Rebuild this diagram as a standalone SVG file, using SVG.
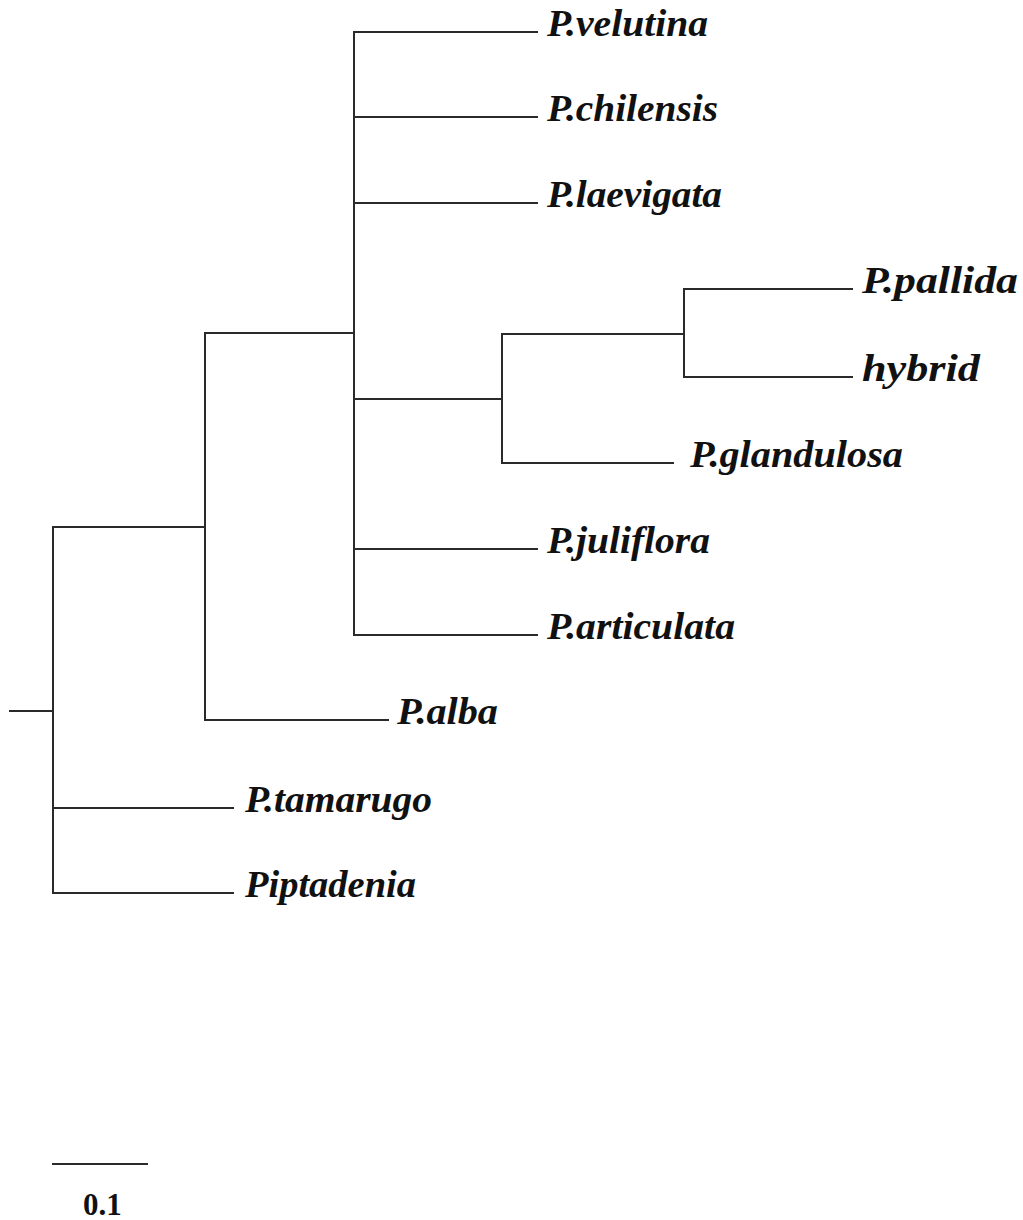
<svg xmlns="http://www.w3.org/2000/svg" width="1023" height="1220" viewBox="0 0 1023 1220">
<style>
.br{stroke:#2a2a2a;stroke-width:2;fill:none;stroke-linecap:square}
.lb{font-family:"Liberation Serif","Times New Roman",serif;font-weight:bold;font-style:italic;font-size:37px;fill:#111}
.sc{font-family:"Liberation Serif","Times New Roman",serif;font-weight:bold;font-size:31px;fill:#111}
</style>
<rect width="1023" height="1220" fill="#fff"/>
<g id="connectors">
<path class="br" d="M10 711H53M53 527V893M53 527H205M53 808H233M53 893H233"/>
<path class="br" d="M205 333V720M205 333H354M205 720H388"/>
<path class="br" d="M354 32V635M354 32H537M354 117H537M354 203H537M354 399H502M354 549H537M354 635H537"/>
<path class="br" d="M502 334V463M502 334H684M502 463H673"/>
<path class="br" d="M684 289V377M684 289H852M684 377H852"/>
</g>
<g id="n-velutina"><text class="lb" x="547" y="36" textLength="161" lengthAdjust="spacingAndGlyphs">P.velutina</text></g>
<g id="n-chilensis"><text class="lb" x="547" y="121" textLength="171" lengthAdjust="spacingAndGlyphs">P.chilensis</text></g>
<g id="n-laevigata"><text class="lb" x="547" y="207" textLength="175" lengthAdjust="spacingAndGlyphs">P.laevigata</text></g>
<g id="n-pallida"><text class="lb" x="862" y="293" textLength="156" lengthAdjust="spacingAndGlyphs">P.pallida</text></g>
<g id="n-hybrid"><text class="lb" x="862" y="381" textLength="118" lengthAdjust="spacingAndGlyphs">hybrid</text></g>
<g id="n-glandulosa"><text class="lb" x="690" y="467" textLength="213" lengthAdjust="spacingAndGlyphs">P.glandulosa</text></g>
<g id="n-juliflora"><text class="lb" x="547" y="553" textLength="163" lengthAdjust="spacingAndGlyphs">P.juliflora</text></g>
<g id="n-articulata"><text class="lb" x="547" y="639" textLength="188" lengthAdjust="spacingAndGlyphs">P.articulata</text></g>
<g id="n-alba"><text class="lb" x="397" y="724" textLength="101" lengthAdjust="spacingAndGlyphs">P.alba</text></g>
<g id="n-tamarugo"><text class="lb" x="245" y="812" textLength="187" lengthAdjust="spacingAndGlyphs">P.tamarugo</text></g>
<g id="n-piptadenia"><text class="lb" x="245" y="897" textLength="171" lengthAdjust="spacingAndGlyphs">Piptadenia</text></g>
<g id="scale">
<path class="br" d="M53 1164H147"/>
<text class="sc" x="83" y="1215">0.1</text>
</g>
</svg>
